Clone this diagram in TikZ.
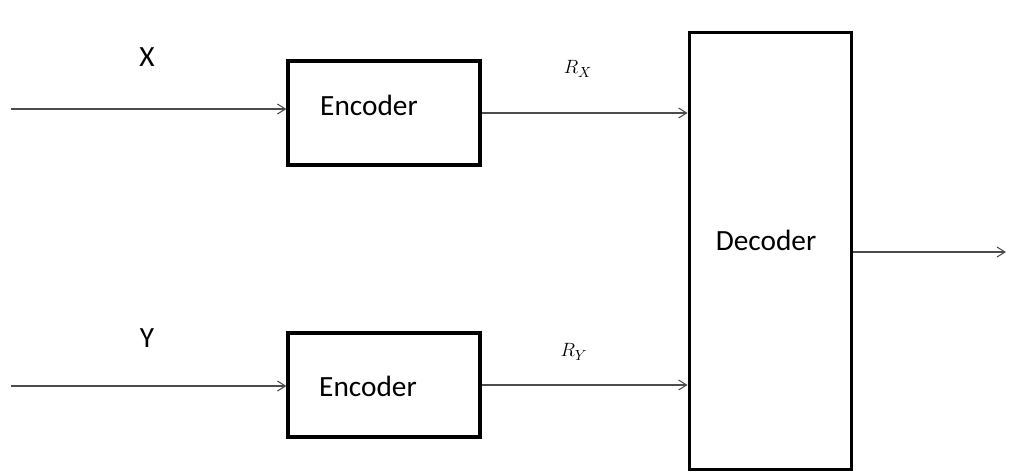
\documentclass[tikz,border=0pt]{standalone}
\usepackage{fontspec}
\setmainfont{Carlito}
\usetikzlibrary{arrows.meta,positioning,calc}

\begin{document}
\begin{tikzpicture}[x=0.75pt,y=0.75pt,yscale=-1,xscale=1,
	blk/.style={draw,line width=2.4pt,inner sep=0pt},
	lbl/.style={font=\fontsize{22}{26}\selectfont,inner sep=0pt},
	rate/.style={font=\fontsize{15}{17}\selectfont,inner sep=0pt},
	sig/.style={draw=black!70,line width=0.8pt,-{Straight Barb[length=6pt,width=7.5pt]}}]
	\useasboundingbox (0,0) rectangle (1026,472);
	
	%Shape: Rectangle [id:enc1] 
	\node [blk,minimum width=144pt,minimum height=78pt] (enc1) at (384,113) {};
	%Shape: Rectangle [id:enc2] 
	\node [blk,minimum width=144pt,minimum height=78pt] (enc2) at (384,385) {};
	%Shape: Rectangle [id:dec] 
	\node [blk,minimum width=122pt,minimum height=328pt] (dec) at (770.5,251) {};
	
	% Free ends
	\coordinate (inx) at (11,109);
	\coordinate (iny) at (11,386);
	\coordinate (out) at (1006,252);
	
	%Straight Lines
	\draw [sig] (inx) -- (inx -| enc1.west);
	\draw [sig] (iny) -- (iny -| enc2.west);
	\draw [sig] (enc1.east) -- (enc1.east -| dec.west);
	\draw [sig] (enc2.east) -- (enc2.east -| dec.west);
	\draw [sig] (out -| dec.east) -- (out);
	
	% Text Node
	\node [lbl] (xlbl) at (147,57) {X};
	% Text Node
	\node [lbl] (ylbl) at (147,338) {Y};
	% Text Node
	\node [lbl] (enc1txt) at (369,105) {Encoder};
	% Text Node
	\node [lbl] (enc2txt) at (368,386) {Encoder};
	% Text Node
	\node [lbl] (dectxt) at (766,240) {Decoder};
	% Text Node
	\node [rate] (rx) at (578,69) {$R_X$};
	% Text Node
	\node [rate] (ry) at (574,352) {$R_Y$};
	
\end{tikzpicture}
\end{document}
